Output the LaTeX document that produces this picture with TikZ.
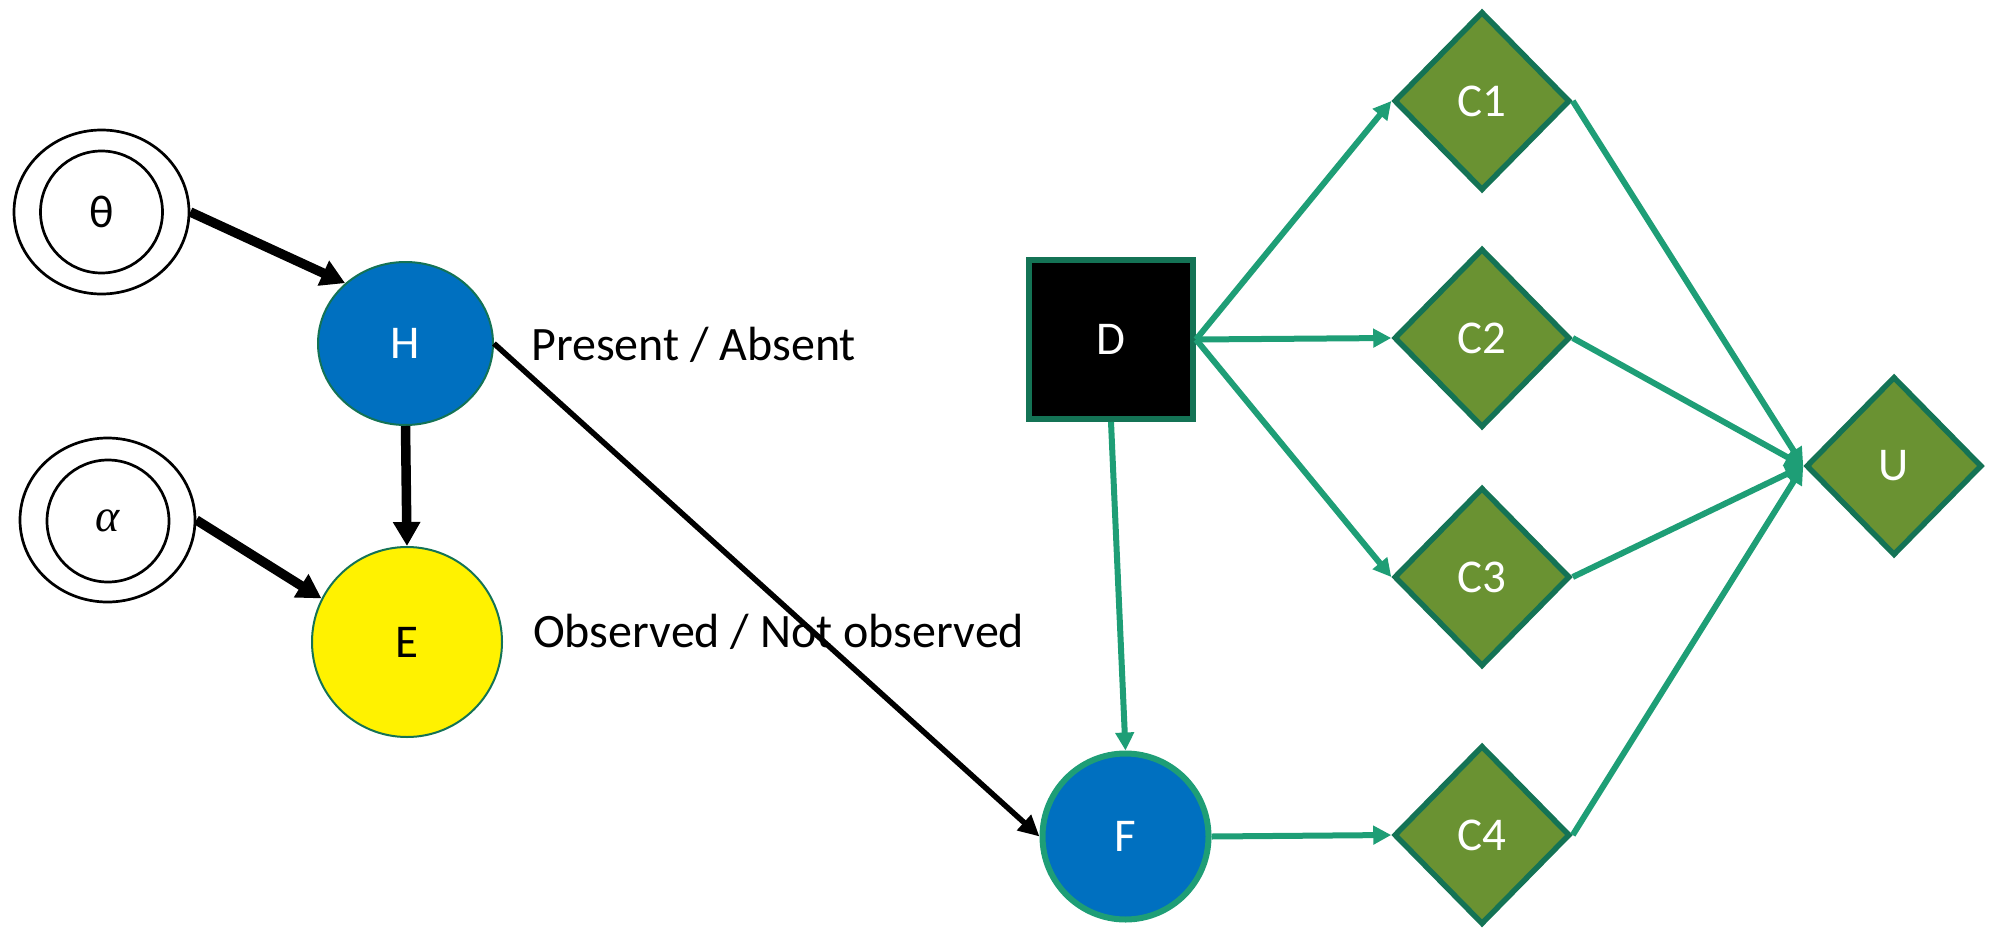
\documentclass[tikz,border=0pt]{standalone}
\usepackage{fontspec}
\setmainfont{Carlito}
\newfontfamily\symbolserif{Liberation Serif}
\usetikzlibrary{shapes.geometric,arrows.meta}
\definecolor{nodeblue}{RGB}{0,112,192}
\definecolor{olive}{RGB}{106,146,50}
\definecolor{darkteal}{RGB}{20,115,85}
\definecolor{teal}{RGB}{30,158,118}
\tikzset{
  hyperouter/.style={ellipse,draw,line width=2.7pt,minimum width=175pt,minimum height=164pt,inner sep=0pt},
  hyperinner/.style={circle,draw,line width=2.7pt,minimum size=122pt,inner sep=0pt,font=\fontsize{46}{50}\selectfont},
  chance/.style={draw=darkteal,line width=2pt,inner sep=0pt,font=\fontsize{47}{50}\selectfont},
  decisionbox/.style={rectangle,draw=darkteal,fill=black,line width=6pt,minimum width=164pt,minimum height=159pt,inner sep=0pt,text=white,font=\fontsize{47}{50}\selectfont},
  valuenode/.style={diamond,draw=darkteal,fill=olive,line width=5.5pt,minimum width=176pt,minimum height=179pt,inner sep=0pt,text=white,font=\fontsize{47}{50}\selectfont},
  blackarrow/.style={line width=9.5pt,-{Triangle[length=24pt,width=26pt]}},
  thinblackarrow/.style={line width=5.5pt,-{Triangle[length=21pt,width=20pt]}},
  greenarrow/.style={draw=teal,line width=6pt,-{Triangle[length=18pt,width=18pt]}},
  statelabel/.style={anchor=base west,inner sep=0pt,font=\fontsize{48}{52}\selectfont}
}
\begin{document}
\begin{tikzpicture}[x=1pt,y=-1pt]
\useasboundingbox (0,0) rectangle (1993,931);

% hyperparameters
\node[hyperouter] (thetaO) at (101.5,212) {};
\node[hyperinner] (theta) at (101.5,212) {θ};
\node[hyperouter] (alphaO) at (107.5,520) {};
\node[hyperinner] (alpha) at (108,521) {\symbolserif\itshape α};

% chance nodes
\node[chance,ellipse,fill=nodeblue,text=white,minimum width=175pt,minimum height=163pt] (H) at (405.5,343.5) {H};
\node[chance,circle,fill=yellow,minimum size=190pt] (E) at (407,642) {E};
\node[circle,draw=teal,fill=nodeblue,line width=6pt,minimum size=166pt,inner sep=0pt,text=white,font=\fontsize{47}{50}\selectfont] (F) at (1125.5,836.5) {F};

% decision node
\node[decisionbox] (D) at (1111,339.5) {D};

% consequence and utility nodes
\node[valuenode] (C1) at (1482,101) {C1};
\node[valuenode] (C2) at (1482,338) {C2};
\node[valuenode] (C3) at (1482,577) {C3};
\node[valuenode] (C4) at (1482,835) {C4};
\node[valuenode] (U) at (1894,466) {U};

% state labels
\node[statelabel] (lblH) at (531,360) {Present / Absent};
\node[statelabel] (lblE) at (533,647) {Observed / Not observed};

% connectors
\draw[blackarrow] (thetaO.east) -- (H.135);
\draw[blackarrow] (alphaO.east) -- (E.153);
\draw[blackarrow] (H.south) -- (E.north);
\draw[thinblackarrow] (H.east) -- (F.west);

\draw[greenarrow] (D.east) -- (C1.west);
\draw[greenarrow] (D.east) -- (C2.west);
\draw[greenarrow] (D.east) -- (C3.west);
\draw[greenarrow] (D.south) -- (F.north);
\draw[greenarrow] (F.east) -- (C4.west);
\draw[greenarrow] (C1.east) -- (U.west);
\draw[greenarrow] (C2.east) -- (U.west);
\draw[greenarrow] (C3.east) -- (U.west);
\draw[greenarrow] (C4.east) -- (U.west);
\end{tikzpicture}
\end{document}
